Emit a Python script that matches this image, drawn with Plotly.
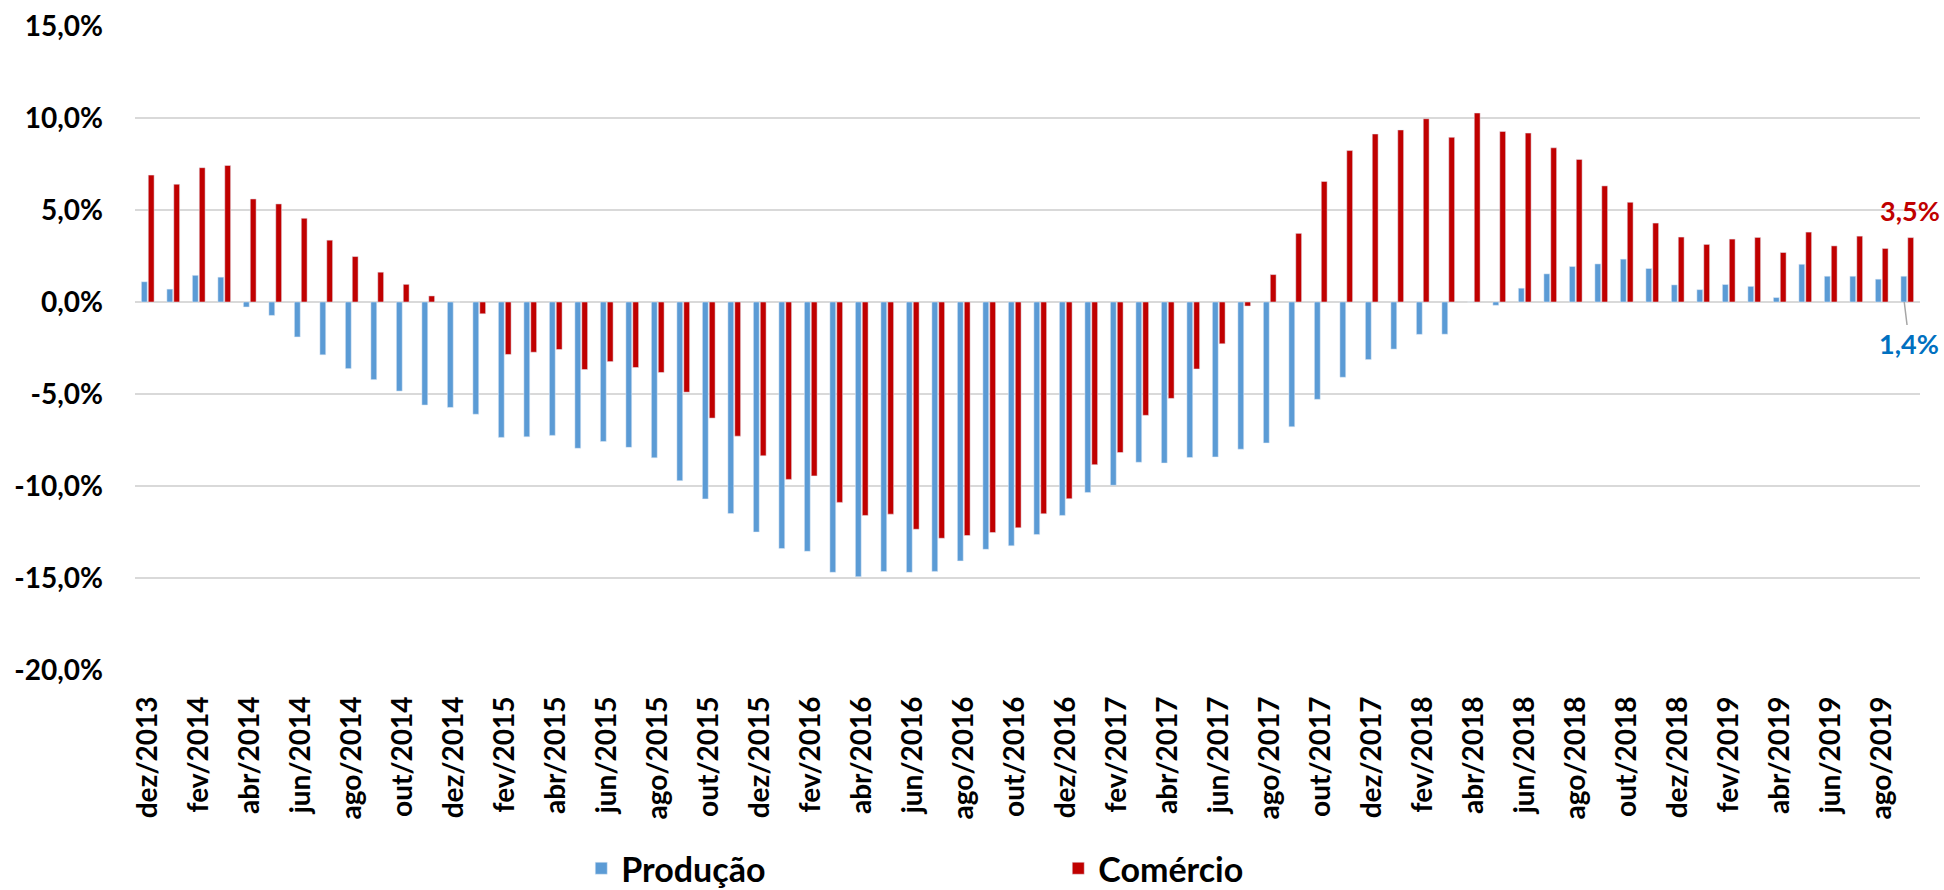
import plotly.graph_objects as go

meses = ["jan", "fev", "mar", "abr", "mai", "jun", "jul", "ago", "set", "out", "nov", "dez"]
periodos = ["dez/2013"] + [f"{m}/{a}" for a in range(2014, 2020) for m in meses][:69]

producao = [1.1, 0.7, 1.45, 1.35, -0.27, -0.73, -1.9, -2.87, -3.62, -4.22, -4.84, -5.6,
            -5.73, -6.1, -7.36, -7.33, -7.25, -7.95, -7.58, -7.9, -8.47, -9.71, -10.7, -11.5,
            -12.5, -13.4, -13.55, -14.69, -14.93, -14.65, -14.69, -14.64, -14.07, -13.44, -13.25, -12.64,
            -11.6, -10.35, -9.96, -8.71, -8.75, -8.45, -8.42, -8.0, -7.66, -6.78, -5.29, -4.09,
            -3.13, -2.56, -1.76, -1.75, 0.0, -0.18, 0.75, 1.53, 1.93, 2.07, 2.33, 1.82,
            0.93, 0.67, 0.95, 0.85, 0.24, 2.05, 1.4, 1.4, 1.24, 1.4]

comercio = [6.9, 6.4, 7.3, 7.42, 5.6, 5.33, 4.55, 3.36, 2.47, 1.62, 0.96, 0.33,
            0.0, -0.64, -2.85, -2.73, -2.58, -3.67, -3.24, -3.56, -3.83, -4.9, -6.31, -7.29,
            -8.36, -9.64, -9.45, -10.89, -11.6, -11.53, -12.35, -12.84, -12.69, -12.53, -12.27, -11.51,
            -10.69, -8.84, -8.18, -6.16, -5.24, -3.64, -2.27, -0.22, 1.49, 3.73, 6.55, 8.23,
            9.13, 9.35, 9.96, 8.95, 10.27, 9.27, 9.18, 8.38, 7.75, 6.31, 5.42, 4.29,
            3.53, 3.13, 3.42, 3.51, 2.69, 3.8, 3.05, 3.58, 2.91, 3.5]

y_ticks = [15, 10, 5, 0, -5, -10, -15, -20]
y_ticktext = ["15,0%", "10,0%", "5,0%", "0,0%", "-5,0%", "-10,0%", "-15,0%", "-20,0%"]
x_tickvals = periodos[::2]

AZUL = "#5B9BD5"
VERMELHO = "#C00000"
FONT = "Lato"


def fmt(v):
    return f"{v:.1f}".replace(".", ",") + "%"


fig = go.Figure()
fig.add_trace(go.Bar(x=periodos, y=producao, name="Produção", marker_color=AZUL))
fig.add_trace(go.Bar(x=periodos, y=comercio, name="Comércio", marker_color=VERMELHO))

fig.add_annotation(x=periodos[-1], y=comercio[-1], text=fmt(comercio[-1]), showarrow=False,
                   yshift=27, xshift=3, font=dict(family=FONT, size=27, color=VERMELHO, weight="bold"))
fig.add_annotation(x=periodos[-1], y=0, text=fmt(producao[-1]), showarrow=True,
                   ax=5, ay=41, arrowhead=0, arrowwidth=1.5, arrowcolor="#A6A6A6", standoff=0,
                   xshift=-3,
                   font=dict(family=FONT, size=27, color="#0070C0", weight="bold"))

fig.update_layout(
    width=1944, height=890, autosize=False,
    paper_bgcolor="white", plot_bgcolor="white",
    margin=dict(l=135, r=24, t=26, b=220, autoexpand=False),
    barmode="group", bargap=0.46, bargroupgap=0.15,
    font=dict(family=FONT, size=27, color="black", weight="bold"),
    showlegend=True,
    legend=dict(orientation="h", x=0.25, xanchor="left", yref="container", y=0.024, yanchor="middle",
                font=dict(family=FONT, size=34, color="black", weight="bold"),
                entrywidth=432, entrywidthmode="pixels", itemwidth=30,
                bgcolor="rgba(0,0,0,0)"),
    xaxis=dict(type="category", range=[-0.5, len(periodos) - 0.5],
               tickmode="array", tickvals=x_tickvals, ticktext=x_tickvals,
               tickangle=-90, ticks="", showgrid=False, showline=False, zeroline=False,
               ticklabelstandoff=20, automargin=False,
               tickfont=dict(family=FONT, size=28, color="black", weight="bold")),
    yaxis=dict(range=[-20, 15], tickmode="array", tickvals=y_ticks, ticktext=y_ticktext,
               showgrid=True, gridcolor="#D9D9D9", gridwidth=2,
               zeroline=True, zerolinecolor="#D9D9D9", zerolinewidth=2,
               showline=False, ticks="", ticklabelstandoff=31, automargin=False,
               tickfont=dict(family=FONT, size=28, color="black", weight="bold")),
)

fig.write_html("out.html", config={"displayModeBar": False},
               post_script="document.body.style.margin='0';")
